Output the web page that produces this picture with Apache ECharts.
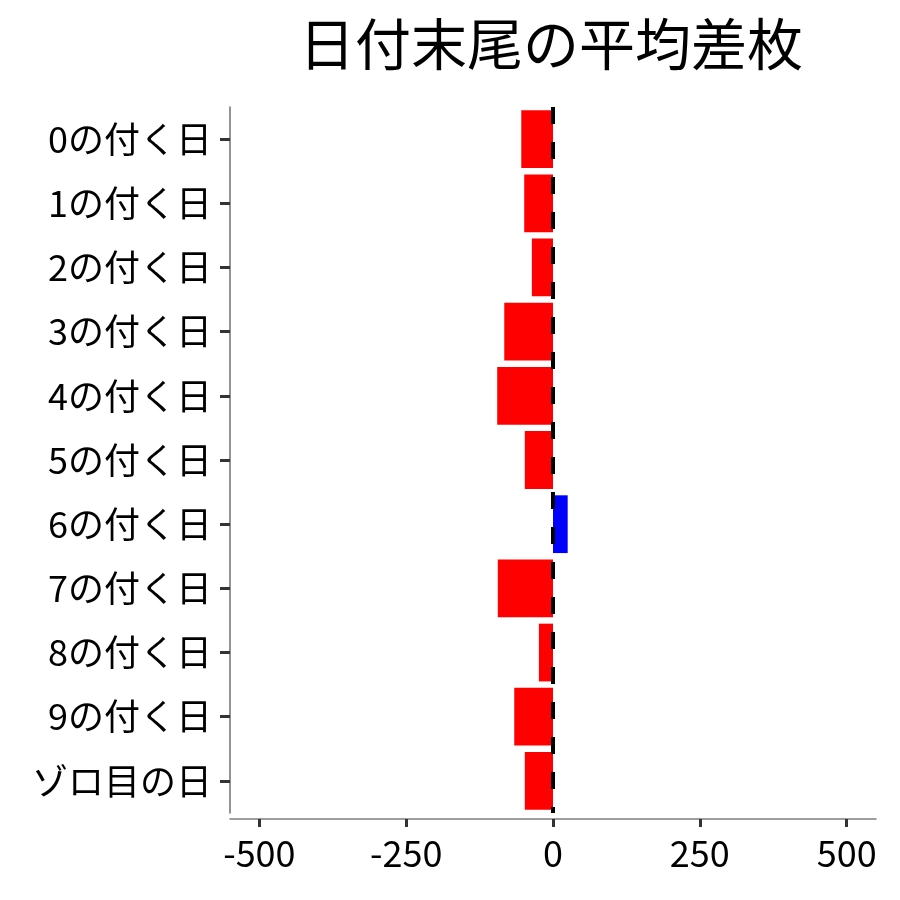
<!DOCTYPE html>
<html>
<head>
<meta charset="utf-8">
<script src="https://cdn.jsdelivr.net/npm/echarts@6/dist/echarts.min.js"></script>
<style>
  html, body { margin: 0; padding: 0; background: #fff; }
  #chart { width: 900px; height: 900px; }
</style>
</head>
<body>
<div id="chart"></div>
<script>
const categories = ["0の付く日", "1の付く日", "2の付く日", "3の付く日", "4の付く日", "5の付く日",
    "6の付く日", "7の付く日", "8の付く日", "9の付く日", "ゾロ目の日"];
const avgDiff = [-54, -49, -36, -83, -95, -48, 25, -94, -24, -66, -48];
const xTicks = [-500, -250, 0, 250, 500];

document.addEventListener("DOMContentLoaded", function () {
    const chartDom = document.getElementById("chart");
    const myChart = echarts.init(chartDom);
    const font = "'Noto Sans CJK JP', 'Noto Sans', sans-serif";

    const option = {
        backgroundColor: "#fff",
        title: {
            text: "日付末尾の平均差枚",
            left: 546,
            textAlign: "center",
            top: 11,
            textStyle: { fontFamily: font, fontSize: 56, fontWeight: "normal", color: "#000" },
        },
        grid: { left: 230, right: 24, top: 107, bottom: 87 },
        xAxis: {
            type: "value",
            min: -550,
            max: 550,
            offset: 6,
            splitLine: { show: false },
            axisLine: { show: true, onZero: false, lineStyle: { color: "#7f7f7f", width: 1.5 } },
            axisTick: { show: true, customValues: xTicks, length: 8, lineStyle: { color: "#333", width: 3 } },
            axisLabel: {
                customValues: xTicks,
                margin: 16,
                fontFamily: font,
                fontSize: 36,
                color: "#000",
            },
        },
        yAxis: {
            type: "category",
            data: categories,
            inverse: true,
            axisLine: { show: true, onZero: false, lineStyle: { color: "#6f6f6f", width: 1.5 } },
            axisTick: { show: true, alignWithLabel: true, length: 10, lineStyle: { color: "#333", width: 3 } },
            axisLabel: { margin: 18, fontFamily: font, fontSize: 36, color: "#000" },
        },
        series: [
            {
                type: "bar",
                barCategoryGap: "10%",
                data: avgDiff.map(v => ({
                    value: v,
                    itemStyle: { color: v < 0 ? "#ff0000" : "#0000ff" },
                })),
                markLine: {
                    silent: true,
                    symbol: "none",
                    label: { show: false },
                    lineStyle: { color: "#000", width: 4, type: [17, 18] },
                    data: [{ xAxis: 0 }],
                },
            },
        ],
    };

    myChart.setOption(option);
});
</script>
</body>
</html>
